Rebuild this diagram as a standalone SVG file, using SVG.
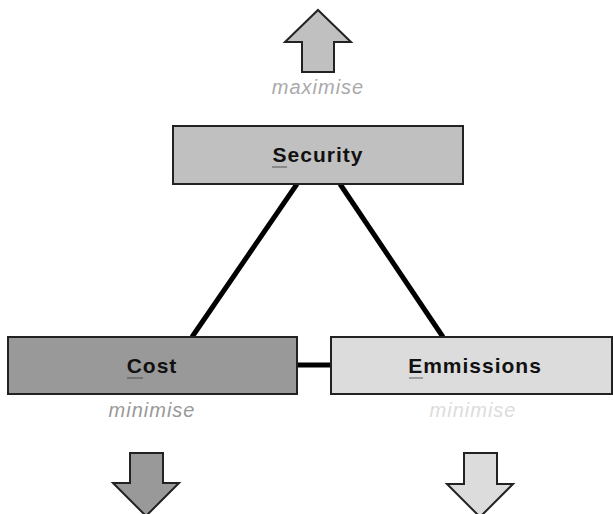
<svg xmlns="http://www.w3.org/2000/svg" width="613" height="514" viewBox="0 0 613 514">
<style>
.box{stroke:#222;stroke-width:2}
.arr{stroke:#222;stroke-width:2;stroke-linejoin:miter}
.t{font-family:"Liberation Sans",Arial,sans-serif;font-size:21px;font-weight:bold;fill:#111;text-anchor:middle;letter-spacing:1px}
.l{font-family:"Liberation Sans",Arial,sans-serif;font-size:20px;font-style:italic;text-anchor:middle;letter-spacing:1px}
.con{stroke:#000;stroke-width:5;fill:none}
</style>
<rect width="613" height="514" fill="#fff"/>
<g id="connectors">
<line class="con" x1="297" y1="184" x2="192" y2="337"/>
<line class="con" x1="340" y1="184" x2="443" y2="337"/>
<line class="con" x1="297" y1="365" x2="331" y2="365"/>
</g>
<g id="security">
<polygon class="arr" fill="#c0c0c0" points="318,10 351,42 334,42 334,72 302,72 302,42 285,42"/>
<text class="l" x="318" y="94" fill="#aaaaaa">maximise</text>
<rect class="box" x="173" y="126" width="290" height="58" fill="#c0c0c0"/>
<text class="t" x="318" y="162">Security</text>
<line x1="272" y1="167" x2="287" y2="167" stroke="#777" stroke-width="1.5"/>
</g>
<g id="cost">
<rect class="box" x="8" y="337" width="289" height="57" fill="#999999"/>
<text class="t" x="152" y="373">Cost</text>
<line x1="127" y1="378" x2="143" y2="378" stroke="#666" stroke-width="1.5"/>
<text class="l" x="152" y="417" fill="#999999">minimise</text>
<polygon class="arr" fill="#999999" points="130,453 163,453 163,483 179,483 146,516 113,483 130,483"/>
</g>
<g id="emmissions">
<rect class="box" x="331" y="337" width="281" height="57" fill="#dcdcdc"/>
<text class="t" x="475" y="373">Emmissions</text>
<line x1="409" y1="378" x2="423" y2="378" stroke="#888" stroke-width="1.5"/>
<text class="l" x="473" y="417" fill="#dcdcdc">minimise</text>
<polygon class="arr" fill="#dcdcdc" points="464,453 497,453 497,484 513,484 480,517 447,484 464,484"/>
</g>
</svg>
